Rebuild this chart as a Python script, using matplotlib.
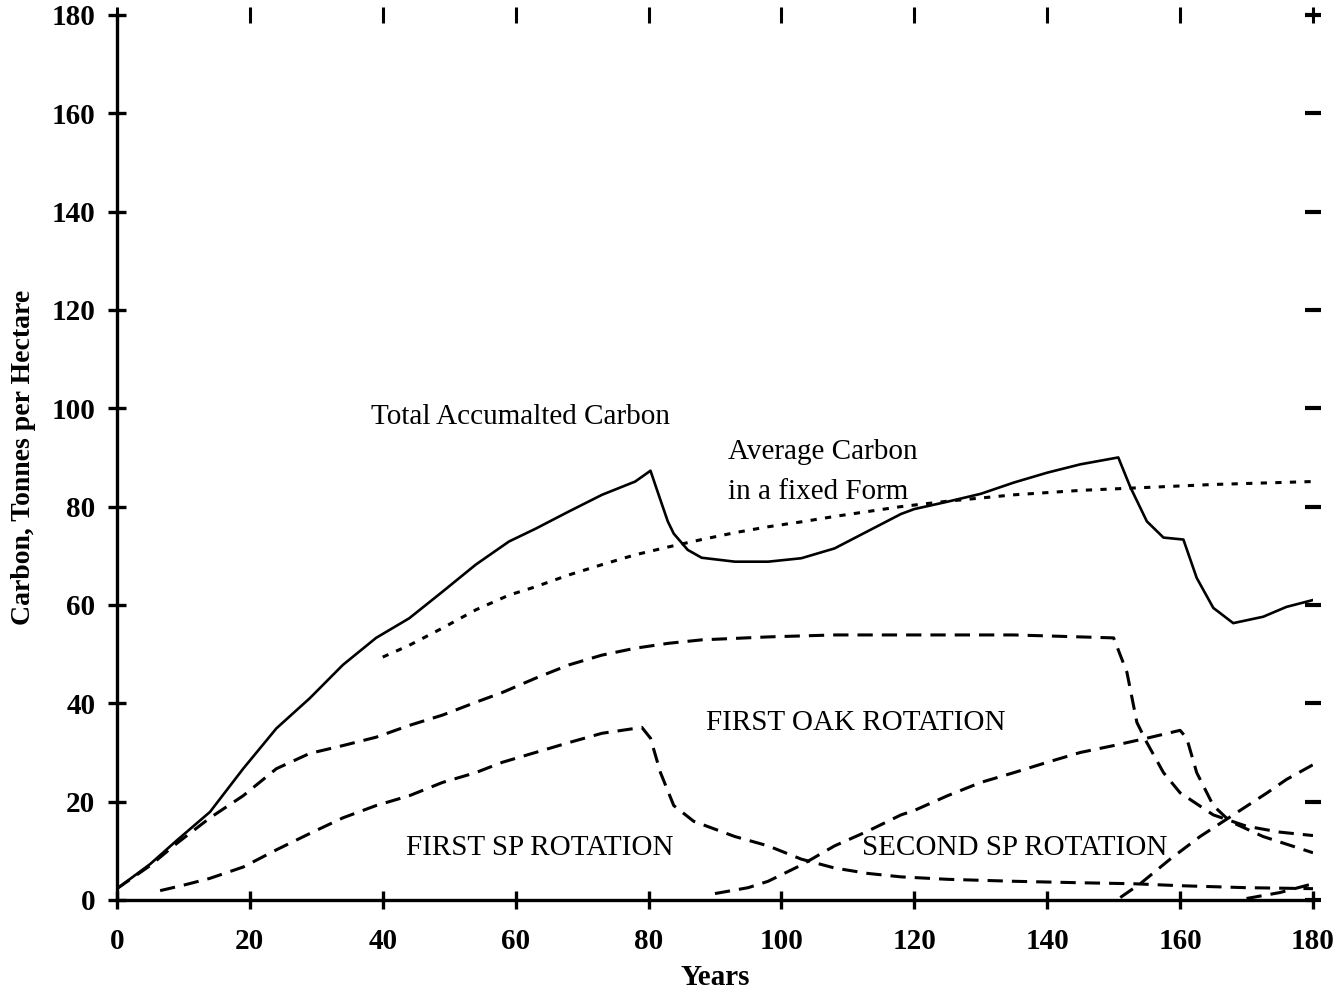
import matplotlib
matplotlib.use("Agg")
import matplotlib.pyplot as plt

plt.rcParams['font.family'] = ['Liberation Serif', 'DejaVu Serif']
plt.rcParams['lines.scale_dashes'] = False

# ---- data ----
total_years = [0, 5, 9, 14, 19, 24, 29, 34, 39, 44, 49, 54, 59, 63, 68, 73, 78, 80.3,
               81.3, 82.9, 83.8, 85.9, 88, 93, 98, 103, 108, 113, 118, 120, 125, 130,
               135, 140, 145, 150.7, 152.5, 155, 157.5, 160.5, 162.5, 165, 168, 172.5,
               176, 180]
total_vals = [2.3, 7.3, 12.1, 17.9, 26.7, 34.9, 41.0, 47.8, 53.3, 57.3, 62.7, 68.2, 72.9,
              75.5, 79.0, 82.4, 85.1, 87.3,
              83.3, 77.0, 74.5, 71.2, 69.6, 68.8, 68.8, 69.5, 71.5, 75.0, 78.5, 79.5,
              81.0, 82.6, 84.9, 86.9, 88.6, 90.0, 84.0, 77.0, 73.7, 73.3, 65.5, 59.4,
              56.3, 57.6, 59.6, 61.0]

avg_years = [40, 44, 49, 54, 59, 63, 68, 73, 78, 83, 88, 93, 98, 103, 108, 113, 118,
             125, 135, 145, 155, 165, 180]
avg_vals = [49.4, 51.8, 55.3, 59.0, 62.0, 63.7, 66.1, 68.2, 70.2, 71.8, 73.3, 74.7,
            75.9, 76.9, 78.0, 79.0, 80.0, 81.1, 82.4, 83.3, 83.9, 84.5, 85.1]

oak1_years = [0, 5, 9, 14, 19, 24, 29, 34, 39, 44, 49, 54, 58, 63, 68, 73, 78, 83, 88,
              98, 108, 118, 135, 150, 152, 153.5, 155, 157.5, 160, 165, 170, 175, 180]
oak1_vals = [2.3, 7.0, 11.5, 16.7, 21.2, 26.7, 29.8, 31.4, 33.1, 35.5, 37.6, 40.2, 42.2,
             45.1, 47.8, 49.8, 51.2, 52.2, 52.9, 53.5, 53.9, 53.9, 53.9, 53.3, 46.3,
             36.1, 32.0, 25.9, 21.8, 17.3, 15.0, 13.8, 13.1]

sp1_years = [6.5, 10, 14, 19, 24, 29, 34, 39, 44, 49, 54, 58, 63, 68, 73, 79, 80.3,
             81.8, 83.8, 86.8, 93, 98, 103, 108, 113, 118, 125, 135, 145, 153, 160,
             170, 180]
sp1_vals = [1.9, 3.0, 4.4, 6.7, 10.2, 13.5, 16.7, 19.2, 21.2, 23.9, 25.9, 28.0, 30.0,
            32.0, 33.9, 35.1, 32.9, 25.9, 19.2, 16.0, 12.9, 11.0, 8.3, 6.5, 5.4, 4.7,
            4.2, 3.8, 3.5, 3.3, 2.9, 2.5, 2.3]

sp2_years = [90, 95, 98, 103, 108, 113, 118, 120, 125, 130, 135, 140, 145, 150, 155,
             160, 161, 162.5, 165, 167.5, 172.5, 180]
sp2_vals = [1.3, 2.5, 3.8, 7.1, 11.0, 14.0, 17.3, 18.2, 21.2, 23.9, 25.9, 28.0, 30.0,
            31.4, 32.9, 34.5, 32.9, 25.9, 19.2, 16.0, 12.9, 9.6]

oak2_years = [151, 154, 158.5, 163, 168, 173, 176, 180]
oak2_vals = [0.5, 3.3, 8.3, 12.9, 17.3, 21.7, 24.5, 27.5]

sp3_years = [170, 175, 180]
sp3_vals = [0.3, 1.5, 3.3]

x_ticks = [0, 20, 40, 60, 80, 100, 120, 140, 160, 180]
y_ticks = [0, 20, 40, 60, 80, 100, 120, 140, 160, 180]

# ---- figure ----
fig = plt.figure(figsize=(13.41, 9.94), dpi=100)
ax = fig.add_axes([0.0872, 0.0946, 0.8919, 0.8904])

dash = (0, (11, 6.5))
dot = (0, (4.5, 6))
ax.plot(total_years, total_vals, color='black', lw=1.9, solid_joinstyle='round')
ax.plot(avg_years, avg_vals, color='black', lw=2.2, linestyle=dot)
for xs, ys in [(oak1_years, oak1_vals), (sp1_years, sp1_vals), (sp2_years, sp2_vals),
               (oak2_years, oak2_vals), (sp3_years, sp3_vals)]:
    ax.plot(xs, ys, color='black', lw=2.2, linestyle=dash)

ax.set_xlim(0, 180)
ax.set_ylim(0, 180)
ax.set_xticks(x_ticks)
ax.set_yticks(y_ticks)
ax.set_xticklabels([str(v) for v in x_ticks], fontsize=21, fontweight='bold')
ax.set_yticklabels([str(v) for v in y_ticks], fontsize=21, fontweight='bold')

for s in ['top', 'right']:
    ax.spines[s].set_visible(False)
for s in ['left', 'bottom']:
    ax.spines[s].set_linewidth(2.4)
ax.tick_params(axis='both', which='major', direction='inout', length=13, width=2.4,
               top=True, right=True)
ax.tick_params(axis='x', which='major', pad=14, labeltop=False)
ax.tick_params(axis='y', which='major', pad=9, labelright=False)
for tick in ax.xaxis.get_major_ticks():
    tick.tick2line.set_markersize(11)
    tick.tick2line.set_markeredgewidth(2.2)
for tick in ax.yaxis.get_major_ticks():
    tick.tick2line.set_markersize(11)
    tick.tick2line.set_markeredgewidth(3.0)

ax.set_xlabel('Years', fontsize=21, fontweight='bold', labelpad=6)
ax.set_ylabel('Carbon, Tonnes per Hectare', fontsize=20, fontweight='bold', labelpad=11)

tkw = dict(fontsize=21, color='black', va='center', ha='left')
ax.text(38.2, 98.3, 'Total Accumalted Carbon', **tkw)
ax.text(91.9, 91.2, 'Average Carbon', **tkw)
ax.text(91.9, 83.0, 'in a fixed Form', **tkw)
ax.text(88.7, 36.0, 'FIRST OAK ROTATION', **tkw)
ax.text(43.5, 10.5, 'FIRST SP ROTATION', **tkw)
ax.text(112.2, 10.5, 'SECOND SP ROTATION', **tkw)

fig.savefig('out.png', dpi=100)
